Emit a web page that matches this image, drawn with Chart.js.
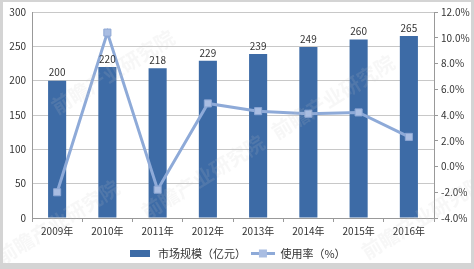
<!DOCTYPE html>
<html>
<head>
<meta charset="utf-8">
<script src="https://cdn.jsdelivr.net/npm/chart.js@4"></script>
<style>
    body { margin: 0; background: #d4d4d4; }
    #box { position: absolute; left: 3px; top: 2px; width: 468px; height: 261px; background: #fff; overflow: hidden; }
</style>
</head>
<body>
<div id="box"><canvas id="market" width="468" height="261"></canvas></div>
<script>
const years = ['2009年', '2010年', '2011年', '2012年', '2013年', '2014年', '2015年', '2016年']
const marketSize = [200, 220, 218, 229, 239, 249, 260, 265]
const useRate = [-2.0, 10.4, -1.8, 4.9, 4.3, 4.1, 4.2, 2.3]

const barColor = '#3d6ba6'
const lineColor = '#8eaad8'
const font = "'Noto Sans CJK SC', 'Noto Sans', sans-serif"

// little legend icons
function barIcon() {
    const c = document.createElement('canvas')
    c.width = 20; c.height = 7
    const x = c.getContext('2d')
    x.fillStyle = barColor
    x.fillRect(0, 0, 20, 7)
    return c
}
function lineIcon() {
    const c = document.createElement('canvas')
    c.width = 24; c.height = 9
    const x = c.getContext('2d')
    x.strokeStyle = lineColor
    x.lineWidth = 3
    x.beginPath(); x.moveTo(0, 4.5); x.lineTo(24, 4.5); x.stroke()
    x.fillStyle = '#a9bde2'
    x.fillRect(8, 0.5, 8, 8)
    return c
}

const barLabels = {
    id: 'barLabels',
    afterDatasetsDraw(chart) {
        const ctx = chart.ctx
        const meta = chart.getDatasetMeta(1)
        ctx.save()
        ctx.font = '10px ' + font
        ctx.fillStyle = '#333'
        ctx.textAlign = 'center'
        ctx.textBaseline = 'bottom'
        meta.data.forEach((bar, i) => {
            ctx.fillText(marketSize[i], bar.x, bar.y - 3)
        })
        ctx.restore()
    }
}

// faint watermark like the source image
const watermark = {
    id: 'watermark',
    afterDraw(chart) {
        const ctx = chart.ctx
        ctx.save()
        ctx.font = 'bold 20px ' + font
        ctx.fillStyle = 'rgba(200,200,200,0.14)'
        const spots = [[110, 70], [330, 95], [200, 175], [55, 220], [420, 215]]
        spots.forEach(p => {
            ctx.save()
            ctx.translate(p[0], p[1])
            ctx.rotate(-0.55)
            ctx.fillText('前瞻产业研究院', -70, 0)
            ctx.restore()
        })
        ctx.restore()
    }
}

const chart_market = document.getElementById('market')
new Chart(chart_market, {
    data: {
        labels: years,
        datasets: [{
            type: 'line',
            label: '使用率（%）',
            data: useRate,
            yAxisID: 'y1',
            borderColor: lineColor,
            borderWidth: 3,
            pointStyle: 'rect',
            pointRadius: 5,
            pointBackgroundColor: '#a9bde2',
            pointBorderColor: '#8ca6d4',
            pointBorderWidth: 1,
            order: 0
        }, {
            type: 'bar',
            label: '市场规模（亿元）',
            data: marketSize,
            yAxisID: 'y',
            backgroundColor: barColor,
            barPercentage: 0.36,
            categoryPercentage: 1,
            order: 1
        }]
    },
    options: {
        responsive: false,
        animation: false,
        layout: { padding: { top: 10, right: 0, left: 0, bottom: -6 } },
        plugins: {
            tooltip: { enabled: false },
            legend: {
                position: 'bottom',
                labels: {
                    font: { family: font, size: 11 },
                    color: '#333',
                    usePointStyle: true,
                    pointStyleWidth: 24,
                    padding: 5,
                    generateLabels: () => [
                        { text: '市场规模（亿元）', pointStyle: barIcon(), fontColor: '#333', datasetIndex: 1 },
                        { text: '使用率（%）', pointStyle: lineIcon(), fontColor: '#333', datasetIndex: 0 }
                    ]
                }
            }
        },
        scales: {
            x: {
                offset: true,
                grid: { offset: true, drawOnChartArea: false, tickLength: 4, color: '#999' },
                border: { color: '#999' },
                ticks: { font: { family: font, size: 10 }, color: '#333', padding: 3 },
                afterFit(s) { s.height = 25 }
            },
            y: {
                position: 'left',
                min: 0, max: 300,
                ticks: { stepSize: 50, font: { family: font, size: 10 }, color: '#333', padding: 6 },
                grid: { color: '#c8c8c8', tickLength: 0 },
                border: { color: '#999' },
                afterFit(s) { s.width = 29; s.paddingTop = 0; s.paddingBottom = 0 }
            },
            y1: {
                position: 'right',
                min: -4, max: 12,
                ticks: {
                    stepSize: 2, font: { family: font, size: 10 }, color: '#333', padding: 3,
                    callback: v => v.toFixed(1) + '%'
                },
                grid: { drawOnChartArea: false, tickLength: 4, color: '#999' },
                border: { color: '#999' },
                afterFit(s) { s.width = 37; s.paddingTop = 0; s.paddingBottom = 0 }
            }
        }
    },
    plugins: [barLabels, watermark]
})
</script>
</body>
</html>
